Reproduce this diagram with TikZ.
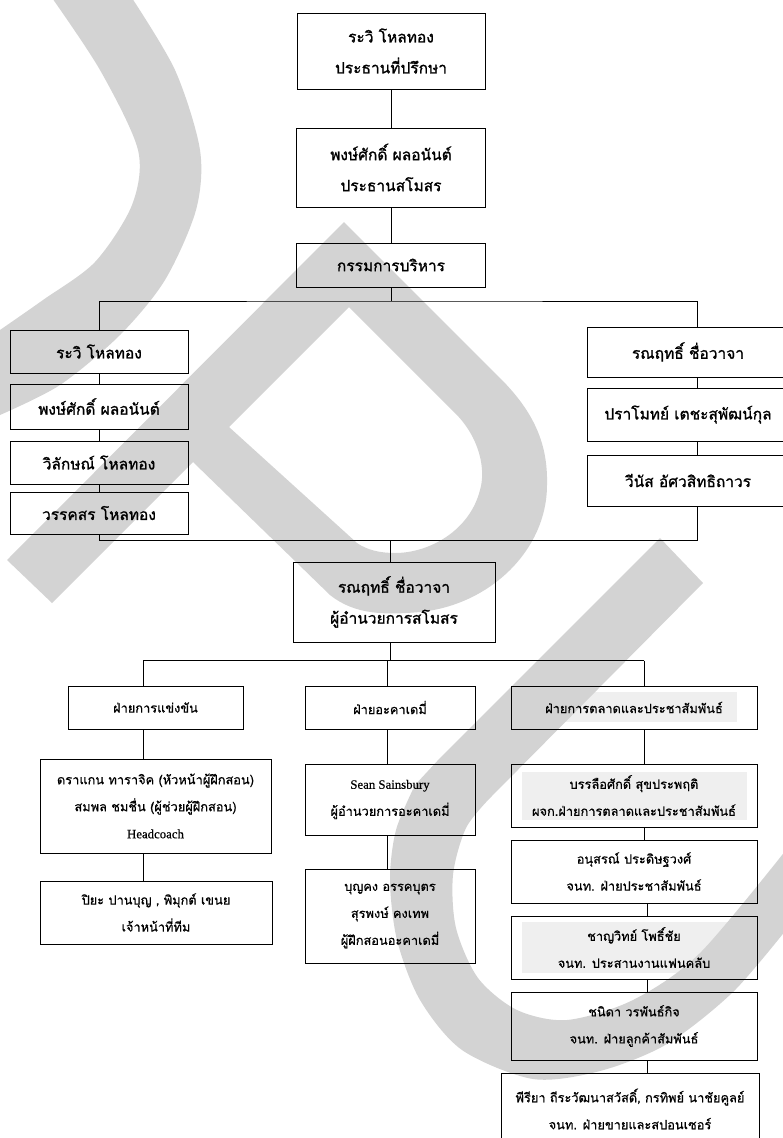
\documentclass[tikz,border=0pt]{standalone}
\usepackage{fontspec}
\setmainfont[Script=Thai]{Loma}
\newfontfamily\thaihead[Script=Thai, FakeBold=1.2]{Loma}
\newfontfamily\thaibody[Script=Thai, FakeBold=0.6]{Loma}
\newfontfamily\latin[FakeBold=0.5]{Liberation Serif}
\usepackage{tikz}
\definecolor{wmgray}{HTML}{D3D3D3}
\definecolor{hlgray}{HTML}{EFEFEF}

\begin{document}
\begin{tikzpicture}[x=1pt, y=-1pt, line width=0.9pt,
    main/.style = {draw, rectangle, inner sep=0pt, align=center, font=\thaihead\fontsize{15.5}{31}\selectfont},
    small/.style = {draw, rectangle, inner sep=0pt, align=center, font=\thaibody\fontsize{12.8}{27}\selectfont},
    wm/.style = {fill=wmgray},
    hl/.style = {fill=hlgray}]
    \useasboundingbox (0,0) rectangle (782,1138);
    % shading behind some texts
    \fill[hl] (522,692) rectangle (737,722);
    \fill[hl] (522,772) rectangle (747,820);
    \fill[hl] (522,922) rectangle (747,973);
    % watermark
    \fill[wm] plot[smooth] coordinates {(50,-5) (100,70) (138,150) (132,205) (95,262) (43,300) (0,330)}
        -- plot[smooth] coordinates {(0,415) (60,385) (120,335) (165,280) (196,210) (200,150) (175,70) (130,-5)} -- cycle;
    \fill[wm, even odd rule] (7,560) -- (344,222) -- (500,378) .. controls (535,413) and (548,445) .. (547,485)
        .. controls (547,550) and (490,605) .. (420,612) .. controls (385,615) and (355,615) .. (330,595)
        -- (193,462) -- (52,603) -- cycle
        (349,307) -- (455,413) .. controls (480,438) and (486,470) .. (480,490)
        .. controls (470,530) and (430,553) .. (395,553) .. controls (380,553) and (367,550) .. (357,543)
        -- (229,427) -- cycle;
    \fill[wm] (660,538) -- (440,758) -- plot[smooth] coordinates {(415,785) (396,830) (390,880) (397,940) (420,1000) (462,1050) (533,1079) (600,1071) (667,1044) (733,992) (790,925)}
        -- plot[smooth] coordinates {(790,845) (700,953) (633,1000) (567,1020) (517,1010) (478,978) (456,928) (453,875) (466,828) (490,798)}
        -- (703,583) -- cycle;

    \node[main, minimum width=188pt, minimum height=76pt] (b1) at (391,51) {ระวิ โหลทอง\\ประธานที่ปรึกษา};
    \node[main, minimum width=189pt, minimum height=79pt] (b2) at (391,167.5) {พงษ์ศักดิ์ ผลอนันต์\\ประธานสโมสร};
    \node[main, minimum width=189pt, minimum height=44pt] (b3) at (391,265) {กรรมการบริหาร};
    \node[main, minimum width=178pt, minimum height=43pt] (l1) at (99,351.5) {ระวิ โหลทอง};
    \node[main, minimum width=178pt, minimum height=45pt] (l2) at (99,406.5) {พงษ์ศักดิ์ ผลอนันต์};
    \node[main, minimum width=178pt, minimum height=43pt] (l3) at (99,462.5) {วิลักษณ์ โหลทอง};
    \node[main, minimum width=178pt, minimum height=42pt] (l4) at (99,513) {วรรคสร โหลทอง};
    \node[main, minimum width=220pt, minimum height=50pt] (r1) at (697,352) {\hspace*{-18pt}รณฤทธิ์ ชื่อวาจา};
    \node[main, minimum width=220pt, minimum height=53pt] (r2) at (697,414.5) {\hspace*{-18pt}ปราโมทย์ เตชะสุพัฒน์กุล};
    \node[main, minimum width=220pt, minimum height=51pt] (r3) at (697,480.5) {\hspace*{-18pt}วีนัส อัศวสิทธิถาวร};
    \node[main, minimum width=202pt, minimum height=80pt] (c) at (394,602) {รณฤทธิ์ ชื่อวาจา\\ผู้อำนวยการสโมสร};

    \node[small, minimum width=175pt, minimum height=43pt] (d1) at (155.5,707.5) {ฝ่ายการแข่งขัน};
    \node[small, minimum width=170pt, minimum height=43pt] (d2) at (390,707.5) {ฝ่ายอะคาเดมี่};
    \node[small, minimum width=246pt, minimum height=43pt] (d3) at (634,707.5) {ฝ่ายการตลาดและประชาสัมพันธ์};
    \node[small, minimum width=231pt, minimum height=94pt] (e1) at (155.5,806) {ดราแกน ทาราจิค (หัวหน้าผู้ฝึกสอน)\\สมพล ชมชื่น (ผู้ช่วยผู้ฝึกสอน)\\{\latin Headcoach}};
    \node[small, minimum width=232pt, minimum height=63pt] (e2) at (156,912.5) {ปิยะ ปานบุญ , พิมุกต์ เขนย\\เจ้าหน้าที่ทีม};
    \node[small, minimum width=170pt, minimum height=71pt] (a1) at (390,799.5) {{\latin Sean Sainsbury}\\ผู้อำนวยการอะคาเดมี่};
    \node[small, minimum width=170pt, minimum height=94pt] (a2) at (390,916) {บุญคง อรรคบุตร\\สุรพงษ์ คงเทพ\\ผู้ฝึกสอนอะคาเดมี่};
    \node[small, minimum width=246pt, minimum height=63pt] (m1) at (634,795.5) {บรรลือศักดิ์ สุขประพฤติ\\ผจก.ฝ่ายการตลาดและประชาสัมพันธ์};
    \node[small, minimum width=246pt, minimum height=63pt] (m2) at (634,871.5) {อนุสรณ์ ประดิษฐวงศ์\\จนท. ฝ่ายประชาสัมพันธ์};
    \node[small, minimum width=246pt, minimum height=63pt] (m3) at (634,947.5) {ชาญวิทย์ โพธิ์ชัย\\จนท. ประสานงานแฟนคลับ};
    \node[small, minimum width=246pt, minimum height=68pt] (m4) at (634,1026) {ชนิดา วรพันธ์กิจ\\จนท. ฝ่ายลูกค้าสัมพันธ์};
    \node[small, minimum width=258pt, minimum height=72pt] (m5) at (630,1109) {พีรียา ถีระวัฒนาสวัสดิ์, กรทิพย์ นาชัยคูลย์\\จนท. ฝ่ายขายและสปอนเซอร์};

    \coordinate (h1) at (391,301);
    \coordinate (h2) at (390,540.5);
    \coordinate (k1) at (143,660.5);
    \coordinate (k2) at (387,660.5);
    \coordinate (k3) at (644,660.5);
    \coordinate (k4) at (647,660.5);

    \draw (b1.south) -- (b2.north);
    \draw (b2.south) -- (b3.north);
    \draw (b3.south) -- (h1);
    \draw (l1.north) |- (h1) -| (r1.north);
    \draw (l1.south) -- (l2.north);
    \draw (l2.south) -- (l3.north);
    \draw (l3.south) -- (l4.north);
    \draw (r1.south) -- (r2.north);
    \draw (r2.south) -- (r3.north);
    \draw (l4.south) |- (h2) -| (r3.south);
    \draw (h2) -- (h2 |- c.north);
    \draw (h2 |- c.south) -- (h2 |- k1);
    \draw (k1) -- (k3);
    \draw (k1) -- (k1 |- d1.north);
    \draw (k2) -- (k2 |- d2.north);
    \draw (k3) -- (k3 |- d3.north);
    \draw (k1 |- d1.south) -- (k1 |- e1.north);
    \draw (k1 |- e1.south) -- (k1 |- e2.north);
    \draw (k2 |- d2.south) -- (k2 |- a1.north);
    \draw (k2 |- a1.south) -- (k2 |- a2.north);
    \draw (k3 |- d3.south) -- (k3 |- m1.north);
    \draw (k3 |- m1.south) -- (k3 |- m2.north);
    \draw (k4 |- m2.south) -- (k4 |- m3.north);
    \draw (k4 |- m3.south) -- (k4 |- m4.north);
    \draw (k4 |- m4.south) -- (k4 |- m5.north);
\end{tikzpicture}
\end{document}
